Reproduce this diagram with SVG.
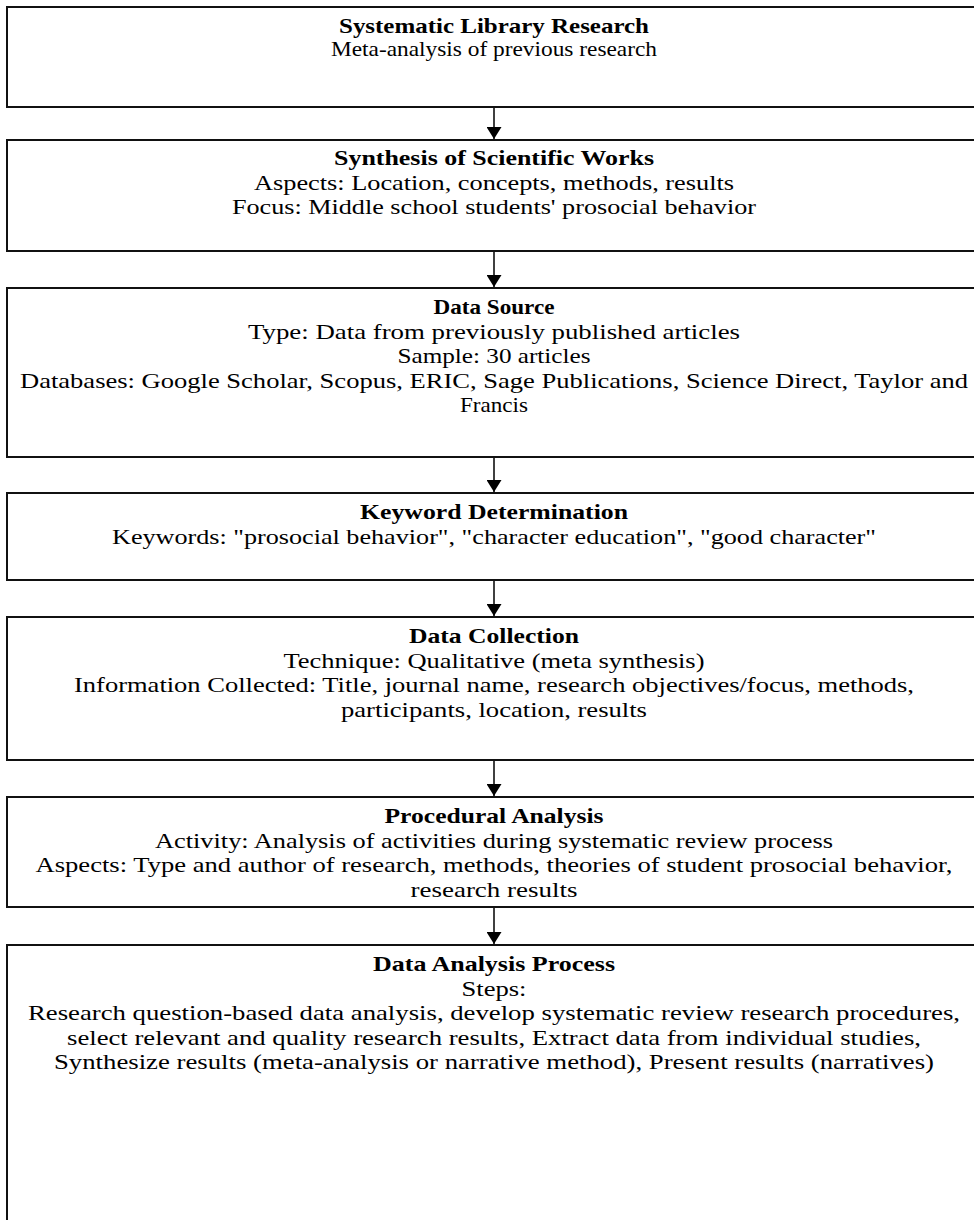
<svg xmlns="http://www.w3.org/2000/svg" width="974" height="1220" viewBox="0 0 974 1220">
<defs>
<style>
.box{fill:#fff;stroke:#111;stroke-width:2}
text{font-family:"Liberation Serif","Times New Roman",serif;font-size:21px;fill:#000;text-anchor:middle}
.t{font-weight:bold}
.conn line{stroke:#000;stroke-width:1.5}
</style>
<marker id="ah" viewBox="0 0 12 15" refX="12" refY="7.5" markerWidth="12" markerHeight="15" markerUnits="userSpaceOnUse" orient="auto">
<path d="M0,0 L12,7.5 L0,15 Z" fill="#000"/>
</marker>
</defs>
<rect width="974" height="1220" fill="#fff"/>
<g id="n1">
<rect class="box" x="7" y="7" width="980" height="100"/>
<text class="t" x="494" y="33" textLength="310" lengthAdjust="spacingAndGlyphs">Systematic Library Research</text>
<text x="494" y="56" textLength="326" lengthAdjust="spacingAndGlyphs">Meta-analysis of previous research</text>
</g>
<g id="n2">
<rect class="box" x="7" y="140" width="980" height="111"/>
<text class="t" x="494" y="165" textLength="320" lengthAdjust="spacingAndGlyphs">Synthesis of Scientific Works</text>
<text x="494" y="190" textLength="480" lengthAdjust="spacingAndGlyphs">Aspects: Location, concepts, methods, results</text>
<text x="494" y="214" textLength="524" lengthAdjust="spacingAndGlyphs">Focus: Middle school students' prosocial behavior</text>
</g>
<g id="n3">
<rect class="box" x="7" y="288" width="980" height="169"/>
<text class="t" x="494" y="314" textLength="121" lengthAdjust="spacingAndGlyphs">Data Source</text>
<text x="494" y="339" textLength="492" lengthAdjust="spacingAndGlyphs">Type: Data from previously published articles</text>
<text x="494" y="363" textLength="193" lengthAdjust="spacingAndGlyphs">Sample: 30 articles</text>
<text x="494" y="388" textLength="948" lengthAdjust="spacingAndGlyphs">Databases: Google Scholar, Scopus, ERIC, Sage Publications, Science Direct, Taylor and</text>
<text x="494" y="412" textLength="68" lengthAdjust="spacingAndGlyphs">Francis</text>
</g>
<g id="n4">
<rect class="box" x="7" y="493" width="980" height="87"/>
<text class="t" x="494" y="519" textLength="268" lengthAdjust="spacingAndGlyphs">Keyword Determination</text>
<text x="494" y="544" textLength="764" lengthAdjust="spacingAndGlyphs">Keywords: "prosocial behavior", "character education", "good character"</text>
</g>
<g id="n5">
<rect class="box" x="7" y="617" width="980" height="143"/>
<text class="t" x="494" y="643" textLength="170" lengthAdjust="spacingAndGlyphs">Data Collection</text>
<text x="494" y="668" textLength="421" lengthAdjust="spacingAndGlyphs">Technique: Qualitative (meta synthesis)</text>
<text x="494" y="692" textLength="840" lengthAdjust="spacingAndGlyphs">Information Collected: Title, journal name, research objectives/focus, methods,</text>
<text x="494" y="717" textLength="306" lengthAdjust="spacingAndGlyphs">participants, location, results</text>
</g>
<g id="n6">
<rect class="box" x="7" y="797" width="980" height="110"/>
<text class="t" x="494" y="823" textLength="219" lengthAdjust="spacingAndGlyphs">Procedural Analysis</text>
<text x="494" y="848" textLength="678" lengthAdjust="spacingAndGlyphs">Activity: Analysis of activities during systematic review process</text>
<text x="494" y="872" textLength="917" lengthAdjust="spacingAndGlyphs">Aspects: Type and author of research, methods, theories of student prosocial behavior,</text>
<text x="494" y="897" textLength="167" lengthAdjust="spacingAndGlyphs">research results</text>
</g>
<g id="n7">
<rect class="box" x="7" y="945" width="980" height="300"/>
<text class="t" x="494" y="971" textLength="242" lengthAdjust="spacingAndGlyphs">Data Analysis Process</text>
<text x="494" y="996" textLength="65" lengthAdjust="spacingAndGlyphs">Steps:</text>
<text x="494" y="1020" textLength="932" lengthAdjust="spacingAndGlyphs">Research question-based data analysis, develop systematic review research procedures,</text>
<text x="494" y="1045" textLength="854" lengthAdjust="spacingAndGlyphs">select relevant and quality research results, Extract data from individual studies,</text>
<text x="494" y="1069" textLength="880" lengthAdjust="spacingAndGlyphs">Synthesize results (meta-analysis or narrative method), Present results (narratives)</text>
</g>
<g id="connectors" class="conn">
<line x1="494" y1="108" x2="494" y2="139" marker-end="url(#ah)"/>
<line x1="494" y1="252" x2="494" y2="287" marker-end="url(#ah)"/>
<line x1="494" y1="458" x2="494" y2="492" marker-end="url(#ah)"/>
<line x1="494" y1="581" x2="494" y2="616" marker-end="url(#ah)"/>
<line x1="494" y1="761" x2="494" y2="796" marker-end="url(#ah)"/>
<line x1="494" y1="908" x2="494" y2="944" marker-end="url(#ah)"/>
</g>
</svg>
